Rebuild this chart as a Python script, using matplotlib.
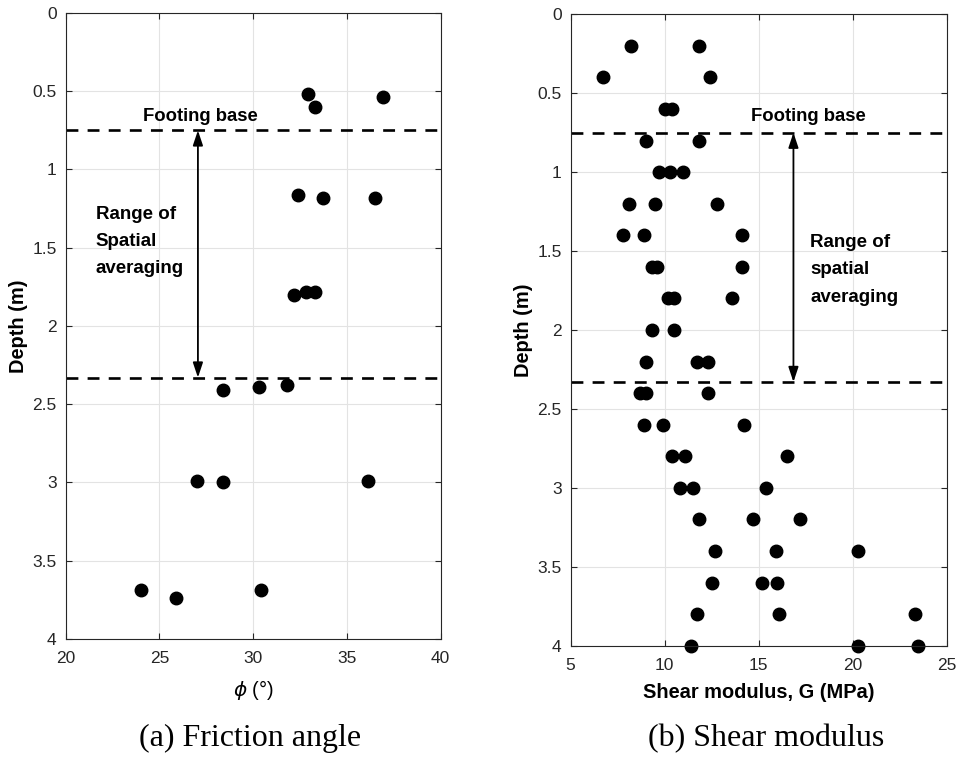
import matplotlib
matplotlib.use('Agg')
import matplotlib.pyplot as plt

plt.rcParams['font.family'] = ['Liberation Sans', 'DejaVu Sans']

# (a) friction angle
phi = [32.9, 33.3, 36.9, 32.4, 33.7, 36.5, 32.2, 32.8, 33.3,
       28.4, 30.3, 31.8, 27.0, 28.4, 36.1, 24.0, 25.9, 30.4]
depth_a = [0.52, 0.60, 0.54, 1.16, 1.18, 1.18, 1.80, 1.78, 1.78,
           2.41, 2.39, 2.38, 2.99, 3.00, 2.99, 3.69, 3.74, 3.69]

# (b) shear modulus
g_mod = [8.2, 11.8, 6.7, 12.4, 10.0, 10.4, 9.0, 11.8,
         9.7, 10.3, 11.0, 8.1, 9.5, 12.8, 7.8, 8.9, 14.1,
         9.3, 9.6, 14.1, 10.2, 10.5, 13.6, 9.3, 10.5,
         9.0, 11.7, 12.3, 8.7, 9.0, 12.3, 8.9, 9.9, 14.2,
         10.4, 11.1, 16.5, 10.8, 11.5, 15.4, 11.8, 14.7, 17.2,
         12.7, 15.9, 20.3, 12.5, 15.2, 16.0, 11.7, 16.1, 23.3,
         11.4, 20.3, 23.5]
depth_b = [0.2, 0.2, 0.4, 0.4, 0.6, 0.6, 0.8, 0.8,
           1.0, 1.0, 1.0, 1.2, 1.2, 1.2, 1.4, 1.4, 1.4,
           1.6, 1.6, 1.6, 1.8, 1.8, 1.8, 2.0, 2.0,
           2.2, 2.2, 2.2, 2.4, 2.4, 2.4, 2.6, 2.6, 2.6,
           2.8, 2.8, 2.8, 3.0, 3.0, 3.0, 3.2, 3.2, 3.2,
           3.4, 3.4, 3.4, 3.6, 3.6, 3.6, 3.8, 3.8, 3.8,
           4.0, 4.0, 4.0]

footing_depth = 0.75
avg_bottom = 2.33
yticks = [0, 0.5, 1, 1.5, 2, 2.5, 3, 3.5, 4]
ylabels = ['0', '0.5', '1', '1.5', '2', '2.5', '3', '3.5', '4']
xticks_a = [20, 25, 30, 35, 40]
xticks_b = [5, 10, 15, 20, 25]

dark = '#262626'
arrow = '<|-|>,head_length=0.9,head_width=0.3'

fig = plt.figure(figsize=(9.57, 7.58), dpi=100)
ax1 = fig.add_axes([0.0687, 0.157, 0.3918, 0.8259])
ax2 = fig.add_axes([0.5963, 0.1482, 0.3929, 0.833])


def style(ax, xticks):
    ax.set_ylim(4, 0)
    ax.set_xlim(xticks[0], xticks[-1])
    ax.set_xticks(xticks)
    ax.set_xticklabels([str(t) for t in xticks])
    ax.set_yticks(yticks)
    ax.set_yticklabels(ylabels)
    ax.grid(True, color='#e3e3e3', lw=0.8)
    ax.set_axisbelow(True)
    ax.tick_params(direction='in', top=True, right=True, length=4,
                   labelsize=12.5, colors=dark, width=0.8)
    ax.tick_params(axis='x', pad=9)
    ax.tick_params(axis='y', pad=6.5)
    for s in ax.spines.values():
        s.set_color(dark)
        s.set_linewidth(0.8)
    ax.set_ylabel('Depth (m)', fontsize=14.4, fontweight='bold')
    ax.yaxis.set_label_coords(-0.10, 0.5)
    for d in (footing_depth, avg_bottom):
        ax.axhline(d, color='k', lw=1.9, dashes=(4.5, 3.5))


style(ax1, xticks_a)
ax1.plot(phi, depth_a, 'o', color='k', ms=9, clip_on=False)
ax1.set_xlabel(r'$\phi$ (°)', fontsize=14.5, labelpad=8)
ax1.text(24.1, 0.66, 'Footing base', fontsize=13.3, fontweight='bold',
         va='center', ha='left')
ax1.text(21.6, 1.46, 'Range of\nSpatial\naveraging', fontsize=13.5,
         fontweight='bold', va='center', ha='left', linespacing=1.8)
ax1.annotate('', xy=(27.05, footing_depth), xytext=(27.05, avg_bottom),
             arrowprops=dict(arrowstyle=arrow, color='k', lw=1.3,
                             shrinkA=0, shrinkB=0))

style(ax2, xticks_b)
ax2.plot(g_mod, depth_b, 'o', color='k', ms=9, clip_on=False)
ax2.set_xlabel('Shear modulus, G (MPa)', fontsize=14.4, fontweight='bold',
               labelpad=7)
ax2.text(14.6, 0.645, 'Footing base', fontsize=13.3, fontweight='bold',
         va='center', ha='left')
ax2.text(17.75, 1.62, 'Range of\nspatial\naveraging', fontsize=13.5,
         fontweight='bold', va='center', ha='left', linespacing=1.8)
ax2.annotate('', xy=(16.85, footing_depth), xytext=(16.85, avg_bottom),
             arrowprops=dict(arrowstyle=arrow, color='k', lw=1.3,
                             shrinkA=0, shrinkB=0))

serif = ['Liberation Serif', 'DejaVu Serif']
fig.text(0.261, 0.026, '(a) Friction angle', fontsize=23, family=serif,
         ha='center', va='center')
fig.text(0.801, 0.026, '(b) Shear modulus', fontsize=23, family=serif,
         ha='center', va='center')

fig.savefig('out.png', dpi=100)
